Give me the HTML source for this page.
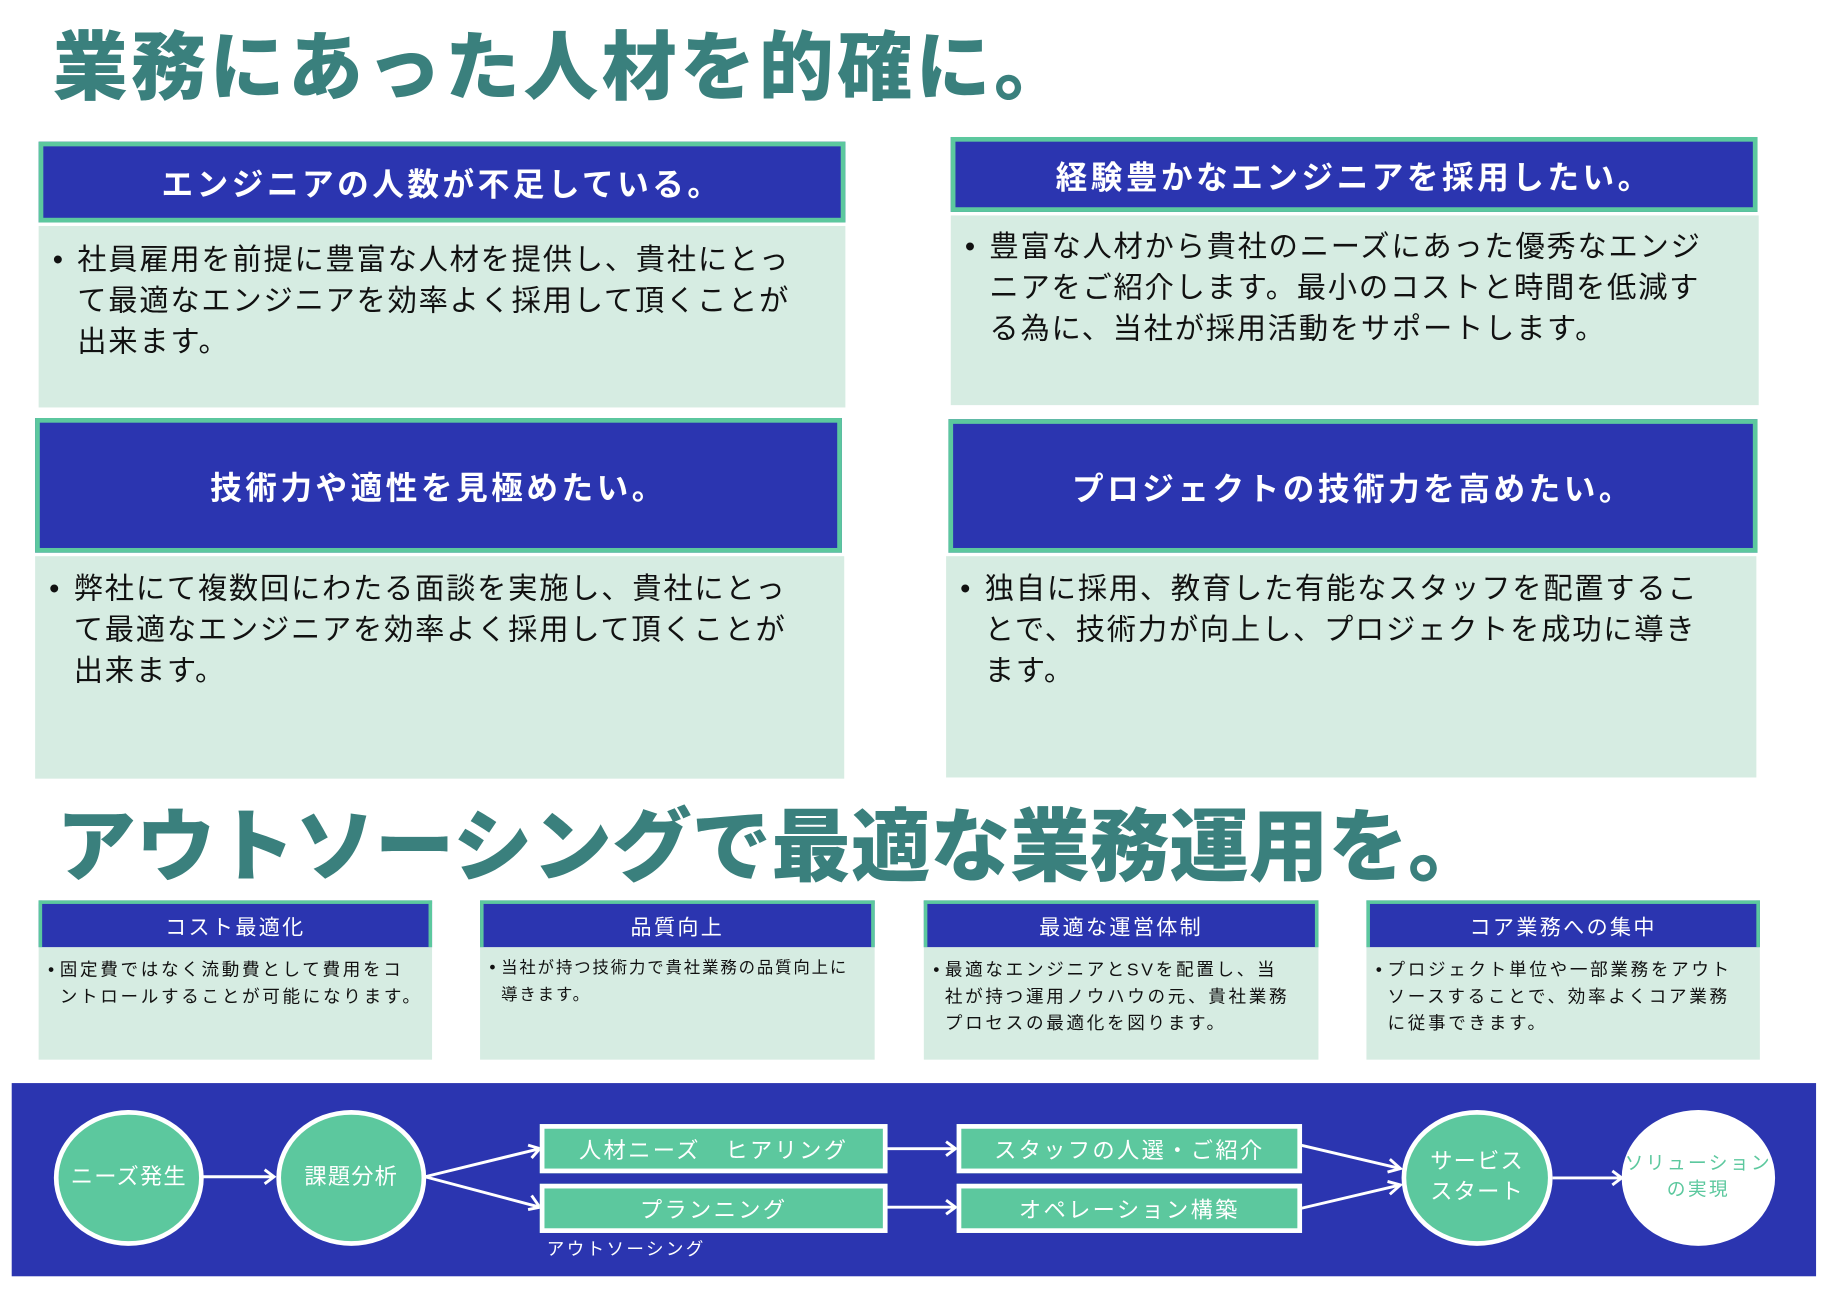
<!DOCTYPE html>
<html><head><meta charset="utf-8"><style>
html,body{margin:0;padding:0;background:#fff;width:1836px;height:1294px;overflow:hidden}
#w{position:absolute;left:0;top:0;width:1568px;height:1105px;transform:scale(1.1709);transform-origin:0 0;font-family:"Liberation Sans","Noto Sans CJK JP",sans-serif}
.a{position:absolute}
.t{color:#3a807d;font-weight:900;white-space:nowrap}
.h{position:absolute;background:#2b35b0;border:4px solid #5cc89e;box-sizing:border-box;color:#fff;font-weight:bold;font-size:27px;letter-spacing:3px;display:flex;align-items:center;justify-content:center;white-space:nowrap}
.b{position:absolute;background:#d6ece2;box-sizing:border-box;color:#111;font-size:25px;line-height:35px;letter-spacing:1.5px;white-space:nowrap}
.b .bl{position:absolute;left:12px}
.b .tx{position:absolute;left:33px}
.sh{position:absolute;background:#2b35b0;border:3px solid #5cc89e;border-bottom:none;box-sizing:border-box;color:#fff;font-size:18px;letter-spacing:2px;display:flex;align-items:center;justify-content:center;white-space:nowrap}
.sb{position:absolute;background:#d6ece2;box-sizing:border-box;color:#111;font-size:15px;line-height:23px;letter-spacing:2.3px;white-space:nowrap}
.sb .bl{position:absolute;left:8px}
.sb .tx{position:absolute;left:18px}
.r{position:absolute;background:#5cc89e;border:4px solid #fff;box-sizing:border-box;color:#fff;font-size:19px;letter-spacing:2px;display:flex;align-items:center;justify-content:center;white-space:nowrap}
.e{position:absolute;border-radius:50%;background:#5cc89e;border:4px solid #fff;box-sizing:border-box;color:#fff;font-size:19px;letter-spacing:1px;line-height:26px;display:flex;align-items:center;justify-content:center;text-align:center;white-space:nowrap}
</style></head><body><div id="w">
<div class="a t" style="left:45px;top:18px;font-size:64px;line-height:80px;letter-spacing:3px">業務にあった人材を的確に。</div>

<div class="h" style="left:33px;top:121px;width:689px;height:69px">エンジニアの人数が不足している。</div>
<div class="b" style="left:33px;top:193px;width:689px;height:155px"><span class="bl" style="top:12px">•</span><div class="tx" style="top:12px">社員雇用を前提に豊富な人材を提供し、貴社にとっ<br>て最適なエンジニアを効率よく採用して頂くことが<br>出来ます。</div></div>

<div class="h" style="left:812px;top:117px;width:689px;height:64px">経験豊かなエンジニアを採用したい。</div>
<div class="b" style="left:812px;top:184px;width:690px;height:162px"><span class="bl" style="top:10px">•</span><div class="tx" style="top:10px">豊富な人材から貴社のニーズにあった優秀なエンジ<br>ニアをご紹介します。最小のコストと時間を低減す<br>る為に、当社が採用活動をサポートします。</div></div>

<div class="h" style="left:30px;top:357px;width:689px;height:115px">技術力や適性を見極めたい。</div>
<div class="b" style="left:30px;top:475px;width:691px;height:190px"><span class="bl" style="top:11px">•</span><div class="tx" style="top:11px">弊社にて複数回にわたる面談を実施し、貴社にとっ<br>て最適なエンジニアを効率よく採用して頂くことが<br>出来ます。</div></div>

<div class="h" style="left:810px;top:358px;width:691px;height:114px">プロジェクトの技術力を高めたい。</div>
<div class="b" style="left:808px;top:475px;width:692px;height:189px"><span class="bl" style="top:11px">•</span><div class="tx" style="top:11px">独自に採用、教育した有能なスタッフを配置するこ<br>とで、技術力が向上し、プロジェクトを成功に導き<br>ます。</div></div>

<div class="a t" style="left:48px;top:682px;font-size:68px;line-height:84px">アウトソーシングで最適な業務運用を。</div>

<div class="sh" style="left:33px;top:769px;width:336px;height:40px">コスト最適化</div>
<div class="sb" style="left:33px;top:809px;width:336px;height:96px"><span class="bl" style="top:8px">•</span><div class="tx" style="top:8px">固定費ではなく流動費として費用をコ<br>ントロールすることが可能になります。</div></div>
<div class="sh" style="left:410px;top:769px;width:337px;height:40px">品質向上</div>
<div class="sb" style="left:410px;top:809px;width:337px;height:96px"><span class="bl" style="top:6px">•</span><div class="tx" style="top:6px;font-size:14px;letter-spacing:1.6px">当社が持つ技術力で貴社業務の品質向上に<br>導きます。</div></div>
<div class="sh" style="left:789px;top:769px;width:337px;height:40px">最適な運営体制</div>
<div class="sb" style="left:789px;top:809px;width:337px;height:96px"><span class="bl" style="top:8px">•</span><div class="tx" style="top:8px">最適なエンジニアとSVを配置し、当<br>社が持つ運用ノウハウの元、貴社業務<br>プロセスの最適化を図ります。</div></div>
<div class="sh" style="left:1167px;top:769px;width:336px;height:40px">コア業務への集中</div>
<div class="sb" style="left:1167px;top:809px;width:336px;height:96px"><span class="bl" style="top:8px">•</span><div class="tx" style="top:8px">プロジェクト単位や一部業務をアウト<br>ソースすることで、効率よくコア業務<br>に従事できます。</div></div>

<div class="a" style="left:10px;top:925px;width:1541px;height:165px;background:#2b35b0"></div>
<svg class="a" style="left:0;top:0" width="1568" height="1105">
<g stroke="#fff" stroke-width="2.5" fill="none">
<line x1="173" y1="1005" x2="234" y2="1005"/><polyline points="226,999 234,1005 226,1011"/>
<line x1="363" y1="1005" x2="461" y2="981"/><polyline points="451,978 461,981 454,989"/>
<line x1="363" y1="1005" x2="461" y2="1031"/><polyline points="454,1021 461,1031 451,1033"/>
<line x1="757" y1="981" x2="816" y2="981"/><polyline points="808,975 816,981 808,987"/>
<line x1="757" y1="1031" x2="816" y2="1031"/><polyline points="808,1025 816,1031 808,1037"/>
<line x1="1111" y1="978" x2="1196" y2="998"/><polyline points="1187,990 1196,998 1185,1001"/>
<line x1="1111" y1="1032" x2="1196" y2="1012"/><polyline points="1185,1009 1196,1012 1187,1020"/>
<line x1="1326" y1="1006" x2="1385" y2="1006"/><polyline points="1377,1000 1385,1006 1377,1012"/>
</g></svg>
<div class="e" style="left:46px;top:948px;width:128px;height:116px">ニーズ発生</div>
<div class="e" style="left:236px;top:948px;width:128px;height:116px">課題分析</div>
<div class="e" style="left:1197px;top:948px;width:129px;height:116px">サービス<br>スタート</div>
<div class="e" style="left:1385px;top:948px;width:131px;height:116px;background:#fff;color:#5cc89e;font-size:16px;line-height:22px;letter-spacing:2px">ソリューション<br>の実現</div>
<div class="r" style="left:461px;top:960px;width:297px;height:42px">人材ニーズ　ヒアリング</div>
<div class="r" style="left:461px;top:1011px;width:297px;height:42px">プランニング</div>
<div class="r" style="left:817px;top:960px;width:295px;height:42px">スタッフの人選・ご紹介</div>
<div class="r" style="left:817px;top:1011px;width:295px;height:42px">オペレーション構築</div>
<div class="a" style="left:467px;top:1056px;color:#fff;font-size:15px;letter-spacing:2px;white-space:nowrap">アウトソーシング</div>
</div></body></html>
